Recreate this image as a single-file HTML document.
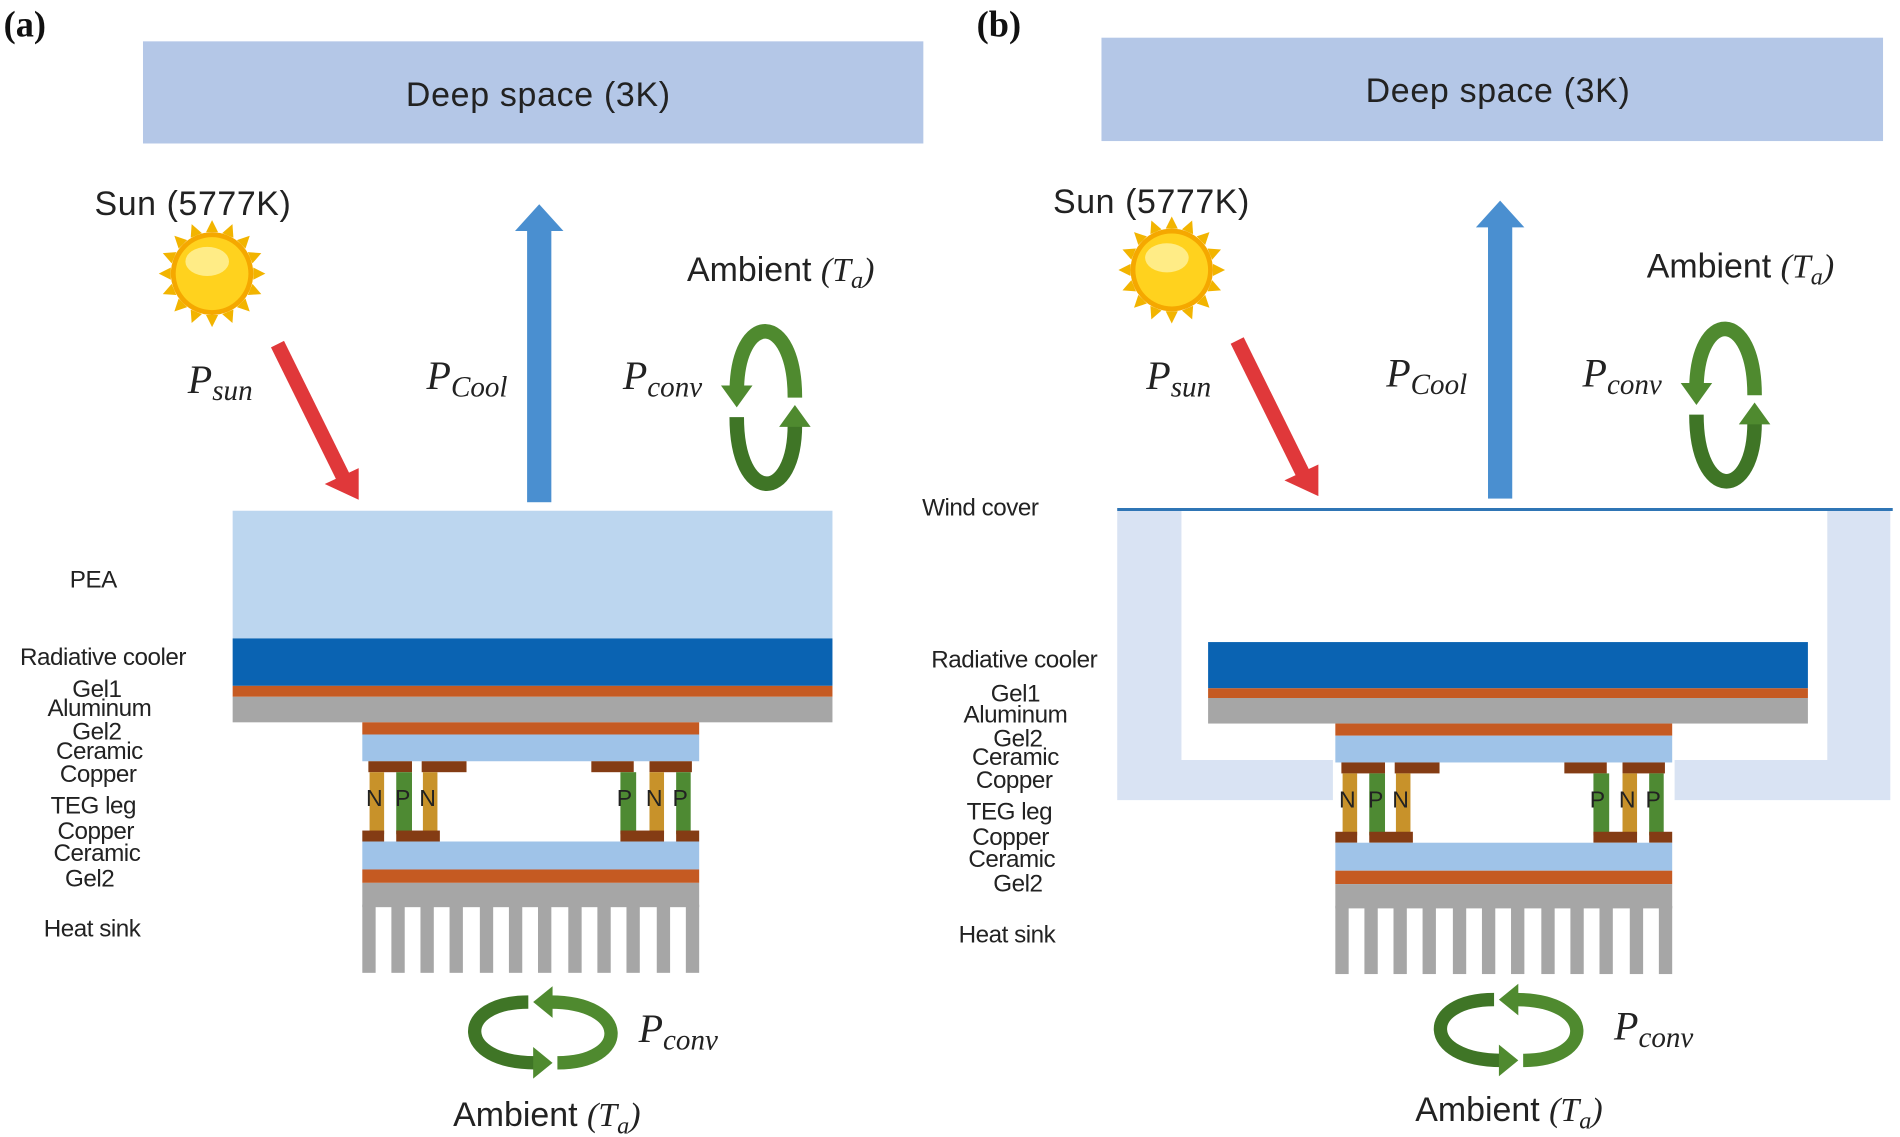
<!DOCTYPE html>
<html><head><meta charset="utf-8"><style>
html,body{margin:0;padding:0;background:#fff;width:1900px;height:1137px;overflow:hidden}
svg{display:block}
.s{font-family:"Liberation Sans",sans-serif;fill:#222}
.m{font-family:"Liberation Serif",serif;font-style:italic;fill:#222}
.b{font-family:"Liberation Serif",serif;font-weight:bold;fill:#111}
.i{font-family:"Liberation Serif",serif;font-style:italic}
</style></head><body>
<svg width="1900" height="1137" viewBox="0 0 1568 935" preserveAspectRatio="none" xmlns="http://www.w3.org/2000/svg">
<defs>
<g id="sun">
  <g fill="#f2b400">
    <polygon points="0,-44 5,-34 -5,-34"/>
    <polygon points="0,-44 5,-34 -5,-34" transform="rotate(22.5)"/>
    <polygon points="0,-44 5,-34 -5,-34" transform="rotate(45)"/>
    <polygon points="0,-44 5,-34 -5,-34" transform="rotate(67.5)"/>
    <polygon points="0,-44 5,-34 -5,-34" transform="rotate(90)"/>
    <polygon points="0,-44 5,-34 -5,-34" transform="rotate(112.5)"/>
    <polygon points="0,-44 5,-34 -5,-34" transform="rotate(135)"/>
    <polygon points="0,-44 5,-34 -5,-34" transform="rotate(157.5)"/>
    <polygon points="0,-44 5,-34 -5,-34" transform="rotate(180)"/>
    <polygon points="0,-44 5,-34 -5,-34" transform="rotate(202.5)"/>
    <polygon points="0,-44 5,-34 -5,-34" transform="rotate(225)"/>
    <polygon points="0,-44 5,-34 -5,-34" transform="rotate(247.5)"/>
    <polygon points="0,-44 5,-34 -5,-34" transform="rotate(270)"/>
    <polygon points="0,-44 5,-34 -5,-34" transform="rotate(292.5)"/>
    <polygon points="0,-44 5,-34 -5,-34" transform="rotate(315)"/>
    <polygon points="0,-44 5,-34 -5,-34" transform="rotate(337.5)"/>
  </g>
  <circle r="34" fill="#f5a800"/>
  <circle r="30" fill="#ffd21e"/>
  <ellipse cx="-4" cy="-10" rx="18" ry="12" fill="#fff2a0" opacity="0.8"/>
</g>
<g id="vcirc">
  <path d="M-24,-12 C-24,-80 24,-80 24,-8" fill="none" stroke="#4f8a2f" stroke-width="12"/>
  <polygon points="-37,-18 -11,-18 -24,0" fill="#4f8a2f"/>
  <path d="M-24,8 C-24,80 24,80 24,14" fill="none" stroke="#3f7526" stroke-width="12"/>
  <polygon points="11,16 37,16 24,-2" fill="#4f8a2f"/>
</g>
<g id="hcirc">
  <path d="M-12,-25 C-72,-25 -72,25 -6,25" fill="none" stroke="#3f7526" stroke-width="11"/>
  <polygon points="-8,12 -8,38 8,25" fill="#4f8a2f"/>
  <path d="M12,25 C72,25 72,-25 6,-25" fill="none" stroke="#4f8a2f" stroke-width="11"/>
  <polygon points="8,-38 8,-12 -8,-25" fill="#4f8a2f"/>
</g>
<g id="teg">
  <rect x="0" y="0" width="278" height="10" fill="#c55a22"/>
  <rect x="0" y="10" width="278" height="22" fill="#9fc3e8"/>
  <rect x="5" y="32" width="36" height="9" fill="#843c14"/>
  <rect x="49" y="32" width="37" height="9" fill="#843c14"/>
  <rect x="189" y="32" width="35" height="9" fill="#843c14"/>
  <rect x="237" y="32" width="35" height="9" fill="#843c14"/>
  <rect x="6" y="41" width="12" height="51" fill="#c8922a"/>
  <rect x="28" y="41" width="13" height="51" fill="#4e8a33"/>
  <rect x="50" y="41" width="12" height="51" fill="#c8922a"/>
  <rect x="213" y="41" width="13" height="51" fill="#4e8a33"/>
  <rect x="237" y="41" width="12" height="51" fill="#c8922a"/>
  <rect x="259" y="41" width="12" height="51" fill="#4e8a33"/>
  <g class="s" font-size="19" fill="#222">
    <text x="3" y="69">N</text><text x="27" y="69">P</text><text x="47" y="69">N</text>
    <text x="210" y="69">P</text><text x="234" y="69">N</text><text x="256" y="69">P</text>
  </g>
  <rect x="0" y="89" width="18" height="9" fill="#843c14"/>
  <rect x="28" y="89" width="36" height="9" fill="#843c14"/>
  <rect x="213" y="89" width="36" height="9" fill="#843c14"/>
  <rect x="259" y="89" width="19" height="9" fill="#843c14"/>
  <rect x="0" y="98" width="278" height="23" fill="#9fc3e8"/>
  <rect x="0" y="121" width="278" height="11" fill="#c55a22"/>
  <rect x="0" y="132" width="278" height="20" fill="#a6a6a6"/>
  <g fill="#a6a6a6">
    <rect x="0" y="150" width="11" height="56"/><rect x="24" y="150" width="11" height="56"/>
    <rect x="48" y="150" width="11" height="56"/><rect x="72" y="150" width="11" height="56"/>
    <rect x="97" y="150" width="11" height="56"/><rect x="121" y="150" width="11" height="56"/>
    <rect x="145" y="150" width="11" height="56"/><rect x="170" y="150" width="11" height="56"/>
    <rect x="194" y="150" width="11" height="56"/><rect x="218" y="150" width="11" height="56"/>
    <rect x="243" y="150" width="11" height="56"/><rect x="267" y="150" width="11" height="56"/>
  </g>
</g>
</defs>

<!-- ========== Panel (a) ========== -->
<text class="b" x="3" y="30" font-size="30">(a)</text>
<rect x="118" y="34" width="644" height="84" fill="#b4c7e7"/>
<text class="s" x="444" y="87" font-size="28" text-anchor="middle" textLength="218">Deep space (3K)</text>
<text class="s" x="78" y="177" font-size="28" textLength="162">Sun (5777K)</text>
<use href="#sun" x="175" y="225"/>
<line x1="229" y1="283" x2="283" y2="392" stroke="#e0383a" stroke-width="12"/>
<polygon points="268,398 296,385 296,411" fill="#e0383a"/>
<rect x="435" y="188" width="20" height="225" fill="#4a8fd0"/>
<polygon points="425,190 465,190 445,168" fill="#4a8fd0"/>
<text class="m" x="155" y="323" font-size="33">P<tspan font-size="24" dy="6">sun</tspan></text>
<text class="m" x="352" y="320" font-size="33">P<tspan font-size="24" dy="6">Cool</tspan></text>
<text class="m" x="514" y="320" font-size="33">P<tspan font-size="24" dy="6">conv</tspan></text>
<text class="s" x="567" y="231" font-size="28">Ambient <tspan class="i">(T</tspan><tspan class="i" font-size="20" dy="6">a</tspan><tspan class="i" dy="-6">)</tspan></text>
<use href="#vcirc" x="632" y="335"/>

<rect x="192" y="420" width="495" height="105" fill="#bcd6ef"/>
<rect x="192" y="525" width="495" height="39" fill="#0a63b2"/>
<rect x="192" y="564" width="495" height="9" fill="#c55a22"/>
<rect x="192" y="573" width="495" height="21" fill="#a6a6a6"/>
<use href="#teg" x="299" y="594"/>

<g class="s" font-size="20" text-anchor="middle" letter-spacing="-0.4">
<text x="77" y="483">PEA</text>
<text x="85" y="547">Radiative cooler</text>
<text x="80" y="573">Gel1</text>
<text x="82" y="589">Aluminum</text>
<text x="80" y="608">Gel2</text>
<text x="82" y="624">Ceramic</text>
<text x="81" y="643">Copper</text>
<text x="77" y="669">TEG leg</text>
<text x="79" y="690">Copper</text>
<text x="80" y="708">Ceramic</text>
<text x="74" y="729">Gel2</text>
<text x="76" y="770">Heat sink</text>
</g>
<use href="#hcirc" x="448" y="849"/>
<text class="m" x="527" y="857" font-size="33">P<tspan font-size="24" dy="6">conv</tspan></text>
<text class="s" x="374" y="926" font-size="28">Ambient <tspan class="i">(T</tspan><tspan class="i" font-size="20" dy="6">a</tspan><tspan class="i" dy="-6">)</tspan></text>

<!-- ========== Panel (b) ========== -->
<text class="b" x="806" y="30" font-size="30">(b)</text>
<rect x="909" y="31" width="645" height="85" fill="#b4c7e7"/>
<text class="s" x="1236" y="84" font-size="28" text-anchor="middle" textLength="218">Deep space (3K)</text>
<text class="s" x="869" y="175" font-size="28" textLength="162">Sun (5777K)</text>
<use href="#sun" x="967" y="222"/>
<line x1="1021" y1="280" x2="1075" y2="389" stroke="#e0383a" stroke-width="12"/>
<polygon points="1060,395 1088,382 1088,408" fill="#e0383a"/>
<rect x="1228" y="185" width="20" height="225" fill="#4a8fd0"/>
<polygon points="1218,187 1258,187 1238,165" fill="#4a8fd0"/>
<text class="m" x="946" y="320" font-size="33">P<tspan font-size="24" dy="6">sun</tspan></text>
<text class="m" x="1144" y="318" font-size="33">P<tspan font-size="24" dy="6">Cool</tspan></text>
<text class="m" x="1306" y="318" font-size="33">P<tspan font-size="24" dy="6">conv</tspan></text>
<text class="s" x="1359" y="228" font-size="28">Ambient <tspan class="i">(T</tspan><tspan class="i" font-size="20" dy="6">a</tspan><tspan class="i" dy="-6">)</tspan></text>
<use href="#vcirc" x="1424" y="333"/>

<path d="M922,418 H1560 V658 H1382 V625 H1508 V420 H975 V625 H1100 V658 H922 Z" fill="#d9e3f3"/>
<line x1="922" y1="419" x2="1562" y2="419" stroke="#2f75b5" stroke-width="2.5"/>
<text class="s" x="761" y="424" font-size="20" letter-spacing="-0.4">Wind cover</text>

<rect x="997" y="528" width="495" height="38" fill="#0a63b2"/>
<rect x="997" y="566" width="495" height="8" fill="#c55a22"/>
<rect x="997" y="574" width="495" height="21" fill="#a6a6a6"/>
<use href="#teg" x="1102" y="595"/>

<g class="s" font-size="20" text-anchor="middle" letter-spacing="-0.4">
<text x="837" y="549">Radiative cooler</text>
<text x="838" y="577">Gel1</text>
<text x="838" y="594">Aluminum</text>
<text x="840" y="614">Gel2</text>
<text x="838" y="629">Ceramic</text>
<text x="837" y="648">Copper</text>
<text x="833" y="674">TEG leg</text>
<text x="834" y="695">Copper</text>
<text x="835" y="713">Ceramic</text>
<text x="840" y="733">Gel2</text>
<text x="831" y="775">Heat sink</text>
</g>
<use href="#hcirc" x="1245" y="847"/>
<text class="m" x="1332" y="855" font-size="33">P<tspan font-size="24" dy="6">conv</tspan></text>
<text class="s" x="1168" y="922" font-size="28">Ambient <tspan class="i">(T</tspan><tspan class="i" font-size="20" dy="6">a</tspan><tspan class="i" dy="-6">)</tspan></text>
</svg>
</body></html>
